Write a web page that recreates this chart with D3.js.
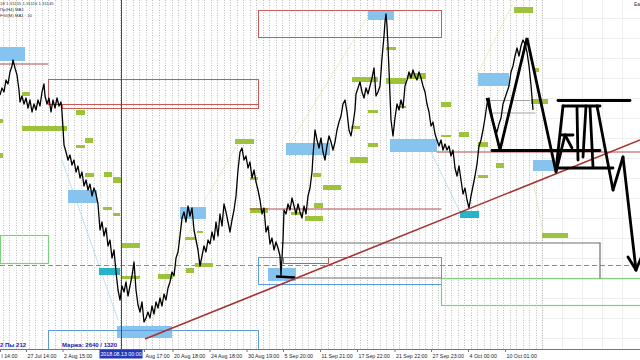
<!DOCTYPE html>
<html><head><meta charset="utf-8">
<script src="https://cdn.jsdelivr.net/npm/d3@7"></script>
<style>body{margin:0;background:#fff;}svg{display:block;font-family:"Liberation Sans",Arial,sans-serif;}</style>
</head><body><svg id="c" width="640" height="360"></svg>
<script>
// ---- data (bar index, price) ----
const priceSeries = [
[0,1.3118],[1,1.3132],[2,1.3124],[3,1.3148],[4,1.3140],[5,1.3164],[6,1.3176],[6.5,1.3188],[7.5,1.3172],[8.5,1.3158],
[9.5,1.3128],[10,1.3104],[11,1.3116],[12,1.3100],[13,1.3112],[14,1.3092],[15,1.3108],[16,1.3084],[17,1.3100],[18,1.3088],
[19,1.3108],[20,1.3096],[21,1.3124],[22,1.3140],[22.5,1.3116],[23.5,1.3100],[24.5,1.3112],[25.5,1.3084],[26.5,1.3108],[27.5,1.3092],
[28.5,1.3112],[29.5,1.3096],[30.5,1.3104],[31,1.3084],[31.5,1.3052],[32,1.3018],[33,1.3004],[34,1.2988],[35,1.2998],[36,1.2978],
[37,1.2988],[38,1.2964],[39,1.2976],[40,1.2952],[41,1.2964],[42,1.2936],[43,1.2948],[44,1.2928],[45,1.2940],[46,1.2916],
[47,1.2932],[48,1.2920],[49,1.2900],[50,1.2848],[51,1.2864],[52,1.2836],[53,1.2852],[54,1.2816],[55,1.2828],[56,1.2792],
[57,1.2808],[58,1.2764],[59,1.2728],[60,1.2708],[61,1.2736],[62,1.2724],[63,1.2744],[64,1.2716],[65,1.2736],[66,1.2756],
[67,1.2784],[68,1.2728],[69,1.2698],[70,1.2684],[71,1.2704],[72,1.2664],[73,1.2672],[74,1.2684],[75,1.2672],[76,1.2696],
[77,1.2680],[78,1.2704],[79,1.2692],[80,1.2712],[81,1.2696],[82,1.2720],[83,1.2708],[84,1.2732],[85,1.2744],[86,1.2764],
[87,1.2756],[88,1.2792],[89,1.2804],[90,1.2836],[91,1.2872],[92,1.2884],[93,1.2864],[94,1.2896],[95,1.2876],[96,1.2892],
[97,1.2848],[98,1.2828],[99,1.2808],[100,1.2776],[101,1.2796],[102,1.2816],[103,1.2804],[104,1.2828],[105,1.2820],[106,1.2844],
[107,1.2828],[108,1.2864],[109,1.2836],[110,1.2880],[111,1.2856],[112,1.2900],[113,1.2884],[114,1.2864],[115,1.2844],[116,1.2868],
[117,1.2888],[118,1.2916],[119,1.2968],[120,1.3004],[121,1.3012],[122,1.2988],[123,1.2996],[124,1.2972],[125,1.2984],[126,1.2952],
[127,1.2968],[128,1.2944],[129,1.2928],[130,1.2908],[131,1.2880],[132,1.2892],[133,1.2844],[134,1.2856],[135,1.2820],[136,1.2832],
[137,1.2808],[138,1.2824],[139,1.2812],[140,1.2796],[140.5,1.2756],[141.5,1.2828],[142,1.2888],[143,1.2880],[144,1.2900],[145,1.2888],
[146,1.2912],[147,1.2896],[148,1.2880],[149,1.2900],[150,1.2884],[151,1.2872],[152,1.2896],[153,1.2880],[154,1.2916],[155,1.2932],
[156,1.2964],[156.5,1.2996],[157.5,1.3048],[158.5,1.3028],[159.5,1.3012],[160.5,1.3032],[161.5,1.3004],[162.5,1.2988],[163.5,1.3016],[164.5,1.3036],
[165.5,1.3024],[166.5,1.3008],[167.5,1.3024],[168.5,1.3048],[169.5,1.3064],[170.5,1.3076],[171.5,1.3100],[172.5,1.3108],[173.5,1.3084],[174.5,1.3048],
[175.5,1.3036],[176.5,1.3060],[177.5,1.3088],[178,1.3120],[179,1.3132],[180,1.3144],[181,1.3124],[182,1.3112],[183,1.3132],[184,1.3120],
[185,1.3136],[186,1.3152],[187,1.3172],[188,1.3116],[189,1.3124],[190,1.3136],[191,1.3192],[192,1.3236],[192.5,1.3264],[193,1.3280],
[193.5,1.3256],[194,1.3216],[194.5,1.3168],[195,1.3118],[195.5,1.3068],[196.5,1.3036],[197.5,1.3072],[198.5,1.3100],[199.5,1.3088],[200.5,1.3108],
[201.5,1.3092],[202.5,1.3136],[203.5,1.3148],[204.5,1.3164],[205.5,1.3152],[206.5,1.3168],[207.5,1.3156],[208.5,1.3148],[209.5,1.3164],[210.5,1.3152],
[211.5,1.3136],[212.5,1.3124],[213.5,1.3100],[214.5,1.3084],[215.5,1.3056],[216.5,1.3064],[217.5,1.3040],[218.5,1.3028],[219.5,1.3016],[220.5,1.3028],
[221.5,1.3008],[222.5,1.3020],[223.5,1.3008],[224.5,1.3016],[225.5,1.2996],[226.5,1.3008],[227.5,1.2972],[228.5,1.2956],[229.5,1.2976],[230.5,1.2948],
[231.5,1.2920],[232.5,1.2932],[233.5,1.2908],[234.5,1.2892],[235.5,1.2916],[236.5,1.2936],[237.5,1.2956],[238.5,1.2980],[239.5,1.3016],[240.5,1.3028],
[241.5,1.3048],[242.5,1.3072],[243.5,1.3100],[244.5,1.3112],[245.5,1.3088],[246.5,1.3064],[247.5,1.3052],[248.5,1.3044],[249.5,1.3060],[250.5,1.3072],
[251.5,1.3100],[252.5,1.3112],[253.5,1.3124],[254.5,1.3136],[255.5,1.3164],[256.5,1.3176],[257.5,1.3196],[258.5,1.3212],[259.5,1.3196],[260.5,1.3216],
[261.5,1.3228],[262.5,1.3220],[263.5,1.3204],[264.5,1.3176],[265.5,1.3138],[266.5,1.3088]
];
// zones: [barStart, priceTop, barEnd, priceBottom]
const blueZones = [
[0,1.3214,12.5,1.3186],[34,1.2928,48.5,1.2902],[90,1.2894,103,1.2870],[143,1.3022,165,1.2998],
[184,1.3288,197,1.3268],[239,1.3162,254.5,1.3136],[195,1.3030,218.5,1.3004],[266.5,1.2988,277,1.2966],
[58.5,1.2656,86,1.2632],[134,1.2772,148,1.2746]
];
const tealZones = [[49.5,1.2772,60,1.2758],[230,1.2886,239.5,1.2872]];
const greenZones = [
[0,1.3070,1.5,1.3062],[0,1.3002,1.5,1.2992],[11,1.3124,15,1.3116],[11,1.3056,33.5,1.3046],[38,1.3088,42.5,1.3078],
[42.5,1.3032,46.5,1.3022],[38,1.3018,42.5,1.3012],[42.5,1.2962,47,1.2954],[52,1.2964,56,1.2954],[56.5,1.2954,60.5,1.2942],
[51.5,1.2894,56,1.2888],[56.5,1.2882,60,1.2876],[61,1.2822,70,1.2812],[61,1.2756,70,1.2750],[79,1.2760,86.5,1.2750],
[92.5,1.2834,97.5,1.2828],[93,1.2772,97,1.2762],[97.5,1.2782,106.5,1.2774],[98.5,1.2846,101.5,1.2842],[117.5,1.3030,127,1.3020],
[125,1.2954,129,1.2948],[125,1.2892,134,1.2882],[145.5,1.2884,151.5,1.2878],[152.5,1.2876,161.5,1.2866],[157,1.2902,161.5,1.2892],
[161.5,1.2938,170.5,1.2928],[156.5,1.2962,160.5,1.2954],[176,1.3154,189,1.3144],[175.5,1.3056,180,1.3050],[175,1.2994,184,1.2982],
[184,1.3088,189,1.3082],[184,1.3022,189,1.3014],[193,1.3214,198,1.3208],[193,1.3152,203,1.3140],[204,1.3162,213,1.3150],
[199,1.3096,203,1.3092],[220.5,1.3104,225.5,1.3094],[220.5,1.3038,225.5,1.3034],[229.5,1.3044,234.5,1.3034],[239,1.3024,244,1.3014],
[239,1.2958,244,1.2952],[248,1.2982,252,1.2972],[257,1.3294,266.5,1.3282],[266.5,1.3172,269.5,1.3164],[265.5,1.3110,274,1.3100],
[271,1.2842,284,1.2832]
];
const redBoxes = [[24,1.3150,129,1.3100],[31,1.3100,129,1.3092],[129,1.3288,220.5,1.3234],[141.5,1.2794,164,1.2782]];
const redLevels = [[0,24,1.3180],[125,220.5,1.2890],[218.5,320,1.3004]];
const blueBoxes = [[24,1.2648,129,1.2608],[129,1.2794,220.5,1.2740]];
const greenBoxes = [[0,1.2838,24,1.2782],[220.5,1.2752,330,1.2698]];
const grayLevels = [[140.5,300,1.2822],[147.5,220.5,1.2752]];
const grayVerticals = [[300,1.2822,1.2752]];
const dashedLevel = 1.2778;
const thinGrayLevels = [[245,265,1.3107],[245,267.5,1.3082]];
const trendLine = [[72.5,1.2630],[320,1.3028]];
const markerLine = [[138,1.2755],[147.5,1.2753]];
const cyanRays = [[31,1.2988,59,1.2668],[215,1.3008,230,1.2884]];
const paleRays = [[75,1.2648,93,1.2884],[102.5,1.2908,120,1.3028],[143,1.3008,186,1.3288],[239,1.3162,256,1.3298],[266.5,1.2948,271.5,1.2842],[86.5,1.2762,96.5,1.2862]];
const projZigzag = [[243.5,1.3112],[250,1.3008],[263.5,1.3232],[278,1.2964]];
const projSegments = [
[246,1.3007,300,1.3007],[279,1.3107,315,1.3107],[281.5,1.3096,300,1.3096],[279,1.2972,306.5,1.2972],
[281.5,1.3096,278,1.2968],[278,1.2964,282.5,1.3038],[282.5,1.3038,286,1.3012],[281,1.3038,286.5,1.3038],
[288.5,1.3092,289,1.2988],[293,1.3096,291.5,1.2994],[295,1.3094,296.5,1.2974],[298.5,1.3096,306.5,1.2928],
[306.5,1.2928,311.5,1.2994],[311.5,1.2994,318,1.2768],[318,1.2768,314,1.2794],[318,1.2768,320.5,1.2792]
];
const selectedBar = 60.5;
const selectedLabel = "2018.08.13 00:00";
// visible parts of the time-axis labels (first is clipped by the left edge, one is partly hidden by the selected-date box)
const tickBars = [0,13,31.25,72,86.25,104.75,123.25,141.5,160,178.5,197.25,215.5,234,252.5];
const tickLabels = ["l 14:00","27 Jul 14:00","2 Aug 15:00","Aug 17:00","20 Aug 18:00","24 Aug 18:00","30 Aug 19:00","5 Sep 20:00","11 Sep 21:00","17 Sep 22:00","21 Sep 22:00","27 Sep 23:00","4 Oct 00:00","10 Oct 01:00"];
const headerLines = ["18 1.31155 1.31116 1.31145","Пр(H4) MA1","FGI(M) MA1 : 10"];
const accountLeft = "2  Пы 212";
const accountMargin = "Маржа: 2640 / 1320";

// ---- scales ----
const W = 640, H = 360, plotBottom = 349;
const x = d3.scaleLinear().domain([0,320]).range([0,640]);
const y = d3.scaleLinear().domain([1.2610,1.3308]).range([plotBottom,0]);
const svg = d3.select("#c");
const defs = svg.append("defs");
defs.append("clipPath").attr("id","plot").append("rect").attr("x",0).attr("y",0).attr("width",W).attr("height",plotBottom);
const g = svg.append("g").attr("clip-path","url(#plot)");

// faint grid
const faint = g.append("g").attr("stroke","#efefef").attr("stroke-width",1);
d3.range(542, 641, 20).forEach(px=>faint.append("line").attr("x1",px+0.5).attr("x2",px+0.5).attr("y1",0).attr("y2",plotBottom));
d3.range(18, plotBottom, 20).forEach(py=>faint.append("line").attr("x1",542).attr("x2",W).attr("y1",py+0.5).attr("y2",py+0.5));
// dotted separators
const sep = g.append("g").attr("stroke","#bdbdbd").attr("stroke-width",1).attr("stroke-dasharray","1,1.5");
d3.range(2.5, 543, 6.5).forEach(px=>sep.append("line").attr("x1",Math.round(px)+0.5).attr("x2",Math.round(px)+0.5).attr("y1",0).attr("y2",plotBottom));

function zoneRects(data, fill){
  g.append("g").selectAll("rect").data(data).join("rect")
   .attr("x",d=>x(d[0])).attr("y",d=>y(d[1]))
   .attr("width",d=>x(d[2])-x(d[0])).attr("height",d=>y(d[3])-y(d[1]))
   .attr("fill",fill);
}
function boxRects(data, stroke, sw){
  g.append("g").selectAll("rect").data(data).join("rect")
   .attr("x",d=>x(d[0])+0.5).attr("y",d=>y(d[1])+0.5)
   .attr("width",d=>x(d[2])-x(d[0])).attr("height",d=>y(d[3])-y(d[1]))
   .attr("fill","none").attr("stroke",stroke).attr("stroke-width",sw||1);
}
function segs(data, stroke, sw, dash){
  const s = g.append("g").selectAll("line").data(data).join("line")
   .attr("x1",d=>x(d[0])).attr("y1",d=>y(d[1])).attr("x2",d=>x(d[2])).attr("y2",d=>y(d[3]))
   .attr("stroke",stroke).attr("stroke-width",sw).attr("stroke-linecap","round");
  if(dash) s.attr("stroke-dasharray",dash);
}

// pale rays
segs(cyanRays, "#a9dbe9", 0.8);
segs(paleRays, "#dfe8b8", 0.8);

// dashed level
g.append("line").attr("x1",0).attr("x2",W).attr("y1",Math.round(y(dashedLevel))+0.5).attr("y2",Math.round(y(dashedLevel))+0.5)
 .attr("stroke","#8a8a8a").attr("stroke-dasharray","5,3");

// zones
zoneRects(blueZones, "#86c4ef");
zoneRects(tealZones, "#25b4c9");
zoneRects(greenZones, "#9cc33b");

// outlines
boxRects(redBoxes, "#c85a55", 1);
boxRects(blueBoxes, "#5c9bd6", 1);
boxRects(greenBoxes, "#7fcf7f", 1.2);
segs(redLevels.map(d=>[d[0],d[2],d[1],d[2]]), "#b04848", 1);
segs(grayLevels.map(d=>[d[0],d[2],d[1],d[2]]), "#6e6e6e", 1.2);
segs(grayVerticals.map(d=>[d[0],d[1],d[0],d[2]]), "#6e6e6e", 1.2);
segs(thinGrayLevels.map(d=>[d[0],d[2],d[1],d[2]]), "#909090", 0.8);

// selected bar vertical
g.append("line").attr("x1",x(selectedBar)+0.5).attr("x2",x(selectedBar)+0.5).attr("y1",0).attr("y2",plotBottom)
 .attr("stroke","#3240d8").attr("stroke-width",1);

// price line
g.append("path").datum(priceSeries)
 .attr("d", d3.line().x(d=>x(d[0])).y(d=>y(d[1])))
 .attr("fill","none").attr("stroke","#000").attr("stroke-width",1.3).attr("stroke-linejoin","round");

// marker line
g.append("line").attr("x1",x(markerLine[0][0])).attr("y1",y(markerLine[0][1])).attr("x2",x(markerLine[1][0])).attr("y2",y(markerLine[1][1]))
 .attr("stroke","#000").attr("stroke-width",2.5);

// trendline
g.append("line").attr("x1",x(trendLine[0][0])).attr("y1",y(trendLine[0][1])).attr("x2",x(trendLine[1][0])).attr("y2",y(trendLine[1][1]))
 .attr("stroke","#a83232").attr("stroke-width",1.6);

// projection
g.append("path").datum(projZigzag)
 .attr("d", d3.line().x(d=>x(d[0])).y(d=>y(d[1])))
 .attr("fill","none").attr("stroke","#000").attr("stroke-width",2.8).attr("stroke-linejoin","miter");
segs(projSegments, "#000", 2.8);

// axis
const axis = d3.axisBottom(x).tickValues(tickBars).tickFormat((d,i)=>tickLabels[i]).tickSize(3).tickSizeOuter(0);
const ax = svg.append("g").attr("transform",`translate(0,${plotBottom})`).call(axis);
ax.select(".domain").attr("stroke","#777").attr("d",`M0,0.5H${W}`);
ax.selectAll(".tick line").attr("stroke","#777");
ax.selectAll(".tick text").attr("text-anchor","start").attr("dx","1").attr("dy","0.55em")
  .attr("font-size","5.3px").attr("font-family","'Liberation Sans',Arial,sans-serif").attr("fill","#222");

// selected label
const sx = x(selectedBar);
svg.append("rect").attr("x",sx-21.5).attr("y",plotBottom+0.5).attr("width",43).attr("height",9).attr("fill","#2438b8");
svg.append("text").attr("x",sx).attr("y",plotBottom+7.2).attr("text-anchor","middle").attr("font-size","5.3px").attr("fill","#fff").text(selectedLabel);

// header
svg.append("g").selectAll("text").data(headerLines).join("text")
 .attr("x",0).attr("y",(d,i)=>5+i*6).attr("font-size","4.3px").attr("fill","#333").text(d=>d);
svg.append("text").attr("x",634).attr("y",6).attr("font-size","5px").attr("fill","#333").text("Ea");

// account info
svg.append("text").attr("x",0).attr("y",346.5).attr("font-size","6px").attr("font-weight","bold").attr("fill","#2222aa").text(accountLeft);
svg.append("text").attr("x",62).attr("y",346.5).attr("font-size","6px").attr("font-weight","bold").attr("fill","#2222aa").text(accountMargin);
</script></body></html>
